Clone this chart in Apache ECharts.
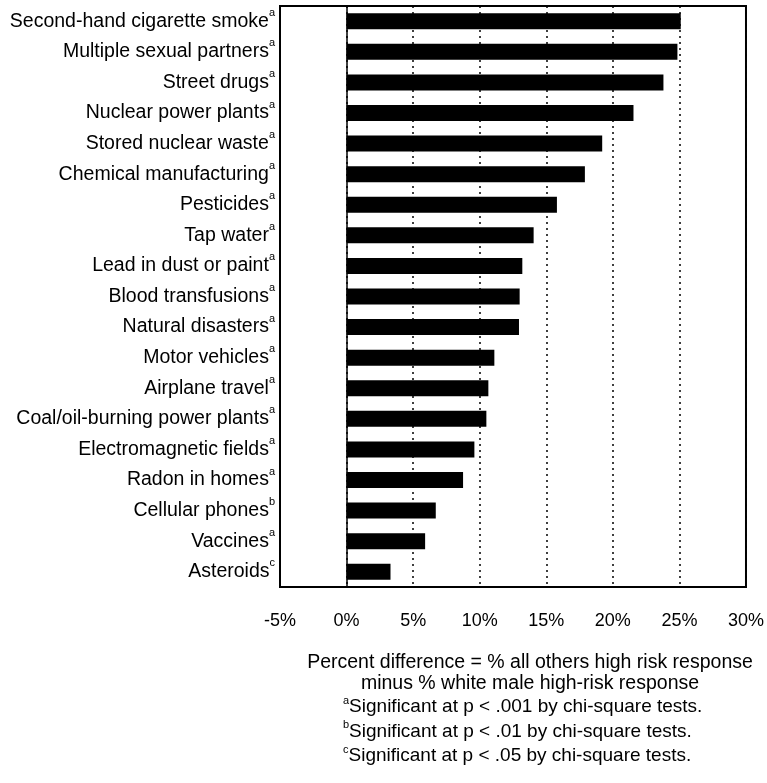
<!DOCTYPE html>
<html>
<head>
<meta charset="utf-8">
<script src="https://cdn.jsdelivr.net/npm/echarts@6/dist/echarts.min.js"></script>
<style>
  html, body { margin: 0; padding: 0; background: #fff; }
  #chart { width: 767px; height: 783px; }
</style>
</head>
<body>
<div id="chart"></div>
<script>
// Hazards, listed top to bottom
const categories = [
  'Second-hand cigarette smoke',
  'Multiple sexual partners',
  'Street drugs',
  'Nuclear power plants',
  'Stored nuclear waste',
  'Chemical manufacturing',
  'Pesticides',
  'Tap water',
  'Lead in dust or paint',
  'Blood transfusions',
  'Natural disasters',
  'Motor vehicles',
  'Airplane travel',
  'Coal/oil-burning power plants',
  'Electromagnetic fields',
  'Radon in homes',
  'Cellular phones',
  'Vaccines',
  'Asteroids'
];

// Percent difference (all others minus white males), high-risk response
const values = [25.1, 24.85, 23.8, 21.55, 19.2, 17.9, 15.8, 14.05, 13.2, 13.0, 12.95,
                11.1, 10.65, 10.5, 9.6, 8.75, 6.7, 5.9, 3.3];

// Significance marks shown as superscripts
const sigMarks = ['a', 'a', 'a', 'a', 'a', 'a', 'a', 'a', 'a', 'a', 'a',
                  'a', 'a', 'a', 'a', 'a', 'b', 'a', 'c'];

// X axis range and step (percent)
const xMin = -5, xMax = 30, xStep = 5;

const axisTitleLines = [
  'Percent difference = % all others high risk response',
  'minus % white male high-risk response'
];

const footnotes = [
  { mark: 'a', text: 'Significant at p < .001 by chi-square tests.' },
  { mark: 'b', text: 'Significant at p < .01 by chi-square tests.' },
  { mark: 'c', text: 'Significant at p < .05 by chi-square tests.' }
];

const FONT = '"Liberation Sans", Arial, Helvetica, sans-serif';
const chart = echarts.init(document.getElementById('chart'));

const titleGraphics = axisTitleLines.map((t, i) => ({
  type: 'text',
  x: 530,
  y: 663 + i * 21,
  style: {
    text: t,
    font: '19.5px ' + FONT,
    fill: '#000',
    align: 'center',
    verticalAlign: 'middle'
  }
}));

const noteGraphics = footnotes.map((f, i) => ({
  type: 'text',
  x: 343,
  y: 707 + i * 24.5,
  style: {
    text: '{s|' + f.mark + '}{n|' + f.text + '}',
    align: 'left',
    verticalAlign: 'middle',
    rich: {
      n: { fontSize: 19, fontFamily: FONT, fill: '#000', lineHeight: 24 },
      s: { fontSize: 11, fontFamily: FONT, fill: '#000', lineHeight: 11, verticalAlign: 'top' }
    }
  }
}));

chart.setOption({
  animation: false,
  backgroundColor: '#fff',
  grid: {
    left: 280, right: 21, top: 6, bottom: 196,
    show: true, borderColor: '#000', borderWidth: 2, backgroundColor: 'transparent',
    containLabel: false
  },
  xAxis: {
    type: 'value',
    min: xMin, max: xMax, interval: xStep,
    axisLine: { show: false },
    axisTick: { show: false },
    splitLine: { show: true, lineStyle: { color: '#000', type: [2, 4], width: 1.5 } },
    axisLabel: {
      formatter: '{value}%', color: '#000', fontSize: 18, fontFamily: FONT, margin: 25
    }
  },
  yAxis: {
    type: 'category',
    data: categories,
    inverse: true,
    axisLine: { show: false },
    axisTick: { show: false },
    splitLine: { show: false },
    axisLabel: {
      margin: 5,
      formatter: (name, idx) => '{n|' + name + '}{s|' + sigMarks[idx] + '}',
      rich: {
        n: { fontSize: 19.5, fontFamily: FONT, color: '#000', lineHeight: 28 },
        s: { fontSize: 11, fontFamily: FONT, color: '#000', lineHeight: 12, verticalAlign: 'top' }
      }
    }
  },
  series: [{
    type: 'bar',
    data: values,
    barWidth: 16,
    itemStyle: { color: '#000' },
    markLine: {
      silent: true,
      symbol: 'none',
      label: { show: false },
      lineStyle: { color: '#000', type: 'solid', width: 1.5 },
      data: [{ xAxis: 0 }]
    }
  }],
  graphic: titleGraphics.concat(noteGraphics)
});
</script>
</body>
</html>
